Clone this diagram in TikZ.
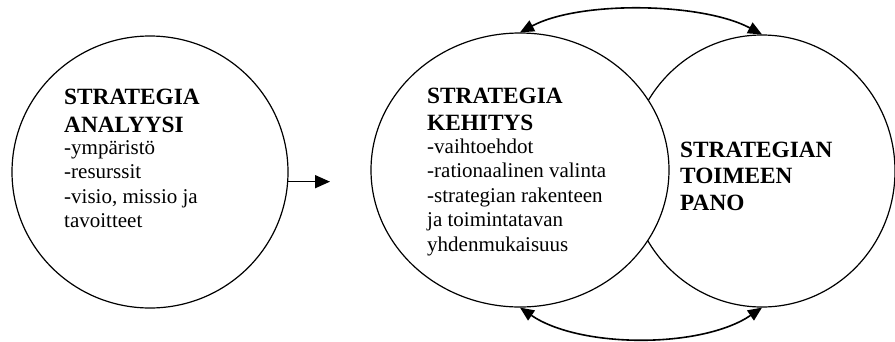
\documentclass[tikz,border=0pt]{standalone}
\usepackage{fontspec}
\setmainfont{Liberation Serif}
\usetikzlibrary{shapes.geometric,arrows.meta}

\tikzset{
  stage/.style={ellipse, draw=black, line width=1.2pt, fill=white, inner sep=0pt},
  conn/.style={line width=1.6pt, draw=black},
  twotip/.style={{Triangle[length=14pt,width=12pt]}-{Triangle[length=14pt,width=12pt]}},
  bigtip/.style={-{Triangle[length=15pt,width=13pt]}},
  head/.style={font=\fontsize{23.3}{26.5}\selectfont\bfseries, inner sep=0pt, anchor=base west},
  item/.style={font=\fontsize{21}{24.5}\selectfont, inner sep=0pt, anchor=base west}
}

\begin{document}
\begin{tikzpicture}[x=1pt,y=-1pt]
\useasboundingbox (0,0) rectangle (895,341);

% the three phases
\node[stage, minimum width=276pt, minimum height=272pt] (analyysi) at (150,172) {};
\node[stage, minimum width=266pt, minimum height=272pt] (toimeen) at (762,171) {};
\node[stage, minimum width=298pt, minimum height=274pt] (kehitys) at (520,170) {};

% analysis
\node[head] (a1) at (64,104) {STRATEGIA};
\node[head] (a2) at (64,132) {ANALYYSI};
\node[item] (a3) at (64,154) {-ympäristö};
\node[item] (a4) at (64,178.5) {-resurssit};
\node[item] (a5) at (64,203) {-visio, missio ja};
\node[item] (a6) at (64,227.5) {tavoitteet};

% development
\node[head] (k1) at (427,103) {STRATEGIA};
\node[head] (k2) at (427,130) {KEHITYS};
\node[item] (k3) at (427,153) {-vaihtoehdot};
\node[item] (k4) at (427,177.5) {-rationaalinen valinta};
\node[item] (k5) at (427,202) {-strategian rakenteen};
\node[item] (k6) at (427,226.5) {ja toimintatavan};
\node[item] (k7) at (427,251) {yhdenmukaisuus};

% implementation
\node[head] (t1) at (680,157) {STRATEGIAN};
\node[head] (t2) at (680,183.5) {TOIMEEN};
\node[head] (t3) at (680,210) {PANO};

% flow from analysis to development
\coordinate (flowend) at (330,182);
\draw[conn, bigtip] (analyysi.-4) -- (analyysi.-4 -| flowend);

% feedback between development and implementation
\draw[conn, twotip] (kehitys.north) .. controls +(60,-32) and +(-60,-32) .. (toimeen.north);
\draw[conn, twotip] (kehitys.south) .. controls +(60,41) and +(-60,41) .. (toimeen.south);
\end{tikzpicture}
\end{document}
